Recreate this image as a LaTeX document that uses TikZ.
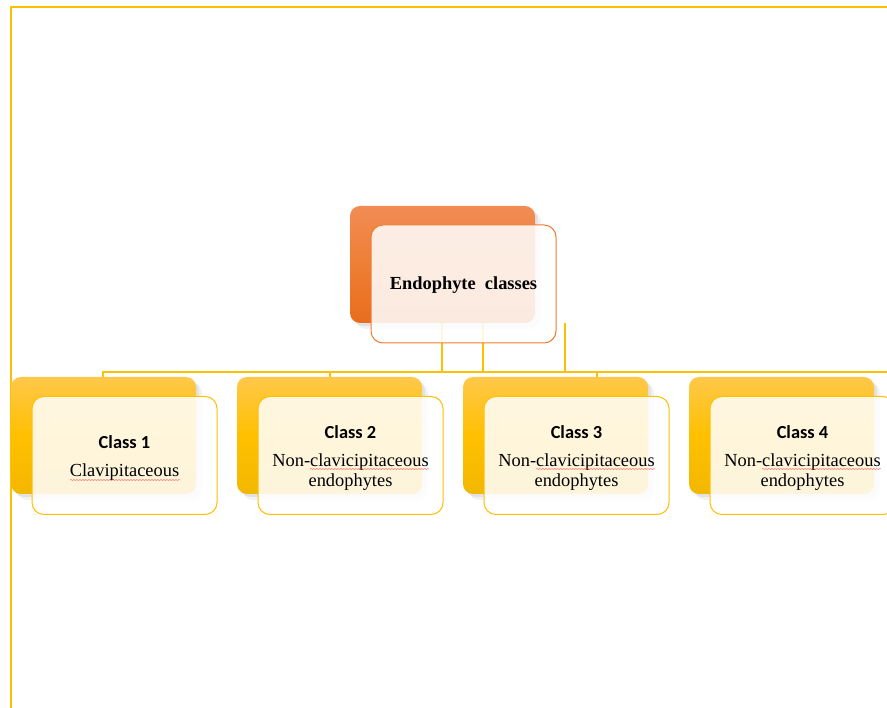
\documentclass[tikz,border=0pt]{standalone}
\usepackage{fontspec}
\setmainfont{Liberation Serif}
\newfontfamily\clfont{Carlito}
\usetikzlibrary{shadows,decorations.pathmorphing}
\definecolor{gold}{HTML}{FFC000}
\definecolor{goldlt}{HTML}{FFC84A}
\definecolor{golddk}{HTML}{F2B700}
\definecolor{orng}{HTML}{ED7D31}
\definecolor{orlt}{HTML}{F28C54}
\definecolor{ordk}{HTML}{E86D1D}
\tikzset{
  backbox/.style={rounded corners=10pt, minimum width=185pt, minimum height=117pt, inner sep=0pt,
    drop shadow={opacity=0.10, shadow xshift=6pt, shadow yshift=-6pt},
    drop shadow={opacity=0.14, shadow xshift=3pt, shadow yshift=-3pt}},
  ybox/.style={backbox, top color=goldlt, bottom color=golddk, middle color=gold},
  obox/.style={backbox, top color=orlt, bottom color=ordk, middle color=orng!90!orlt},
  frontbox/.style={draw=#1, line width=1pt, rounded corners=12pt, fill=white, fill opacity=0.86,
    minimum width=185pt, minimum height=118pt, inner sep=0pt},
  link/.style={draw=gold, line width=2.8pt},
  frame/.style={draw=gold, line width=2.2pt},
  squig/.style={draw=red!75, opacity=0.7, line width=0.5pt, decorate,
    decoration={snake, amplitude=0.5pt, segment length=3pt}},
  txt/.style={font=\fontsize{18.4}{19.5}\selectfont, align=center, inner sep=0pt}
}
\begin{document}
\begin{tikzpicture}[x=1pt,y=-1pt]
\useasboundingbox (0,0) rectangle (887,708);
\clip (0,0) rectangle (887,708);
% frame
\coordinate (f1) at (11,708);
\coordinate (f2) at (11,7);
\coordinate (f3) at (890,7);
\draw[frame] (f1) -- (f2) -- (f3);
% connector coordinates
\coordinate (h0) at (103,372);
\coordinate (hE) at (890,372);
\coordinate (v1t) at (442,323);
\coordinate (v1b) at (442,372);
\coordinate (v2t) at (483,323);
\coordinate (v2b) at (483,372);
\coordinate (v3t) at (565,323);
\coordinate (v3b) at (565,372);
\coordinate (t1) at (103,379);
\coordinate (t2) at (330,379);
\coordinate (t2a) at (330,372);
\coordinate (t3) at (597,379);
\coordinate (t3a) at (597,372);
\draw[link] (v1t) -- (v1b);
\draw[link] (v2t) -- (v2b);
\draw[link] (v3t) -- (v3b);
\draw[link] (t1) -- (h0) -- (hE);
\draw[link] (t2a) -- (t2);
\draw[link] (t3a) -- (t3);
% root
\node[obox] (rootback) at (442.5,264.5) {};
\node[frontbox=orng] (root) at (463.5,284) {};
\node[txt] (roottxt) at (463.5,285.5) {\textbf{Endophyte\ \ classes}};
% children back boxes
\node[ybox] (c1back) at (103.5,435.5) {};
\node[ybox] (c2back) at (329.5,435.5) {};
\node[ybox] (c3back) at (555.5,435.5) {};
\node[ybox] (c4back) at (781.5,435.5) {};
% children front boxes
\node[frontbox=gold] (c1) at (124.5,455.5) {};
\node[frontbox=gold] (c2) at (350.5,455.5) {};
\node[frontbox=gold] (c3) at (576.5,455.5) {};
\node[frontbox=gold] (c4) at (802.5,455.5) {};
\node[txt] (c1t) at (124.5,458) {{\clfont\bfseries Class 1}\\[9pt]Clavipitaceous};
\node[txt] (c2t) at (350.5,458) {{\clfont\bfseries Class 2}\\[9pt]Non-clavicipitaceous\\endophytes};
\node[txt] (c3t) at (576.5,458) {{\clfont\bfseries Class 3}\\[9pt]Non-clavicipitaceous\\endophytes};
\node[txt] (c4t) at (802.5,458) {{\clfont\bfseries Class 4}\\[9pt]Non-clavicipitaceous\\endophytes};
% spell-check squiggles
\coordinate (s1a) at (70,480); \coordinate (s1b) at (180,480);
\coordinate (s2a) at (310,469); \coordinate (s2b) at (429,469);
\coordinate (s3a) at (536,469); \coordinate (s3b) at (655,469);
\coordinate (s4a) at (762,469); \coordinate (s4b) at (881,469);
\draw[squig] (s1a) -- (s1b);
\draw[squig] (s2a) -- (s2b);
\draw[squig] (s3a) -- (s3b);
\draw[squig] (s4a) -- (s4b);
\end{tikzpicture}
\end{document}
